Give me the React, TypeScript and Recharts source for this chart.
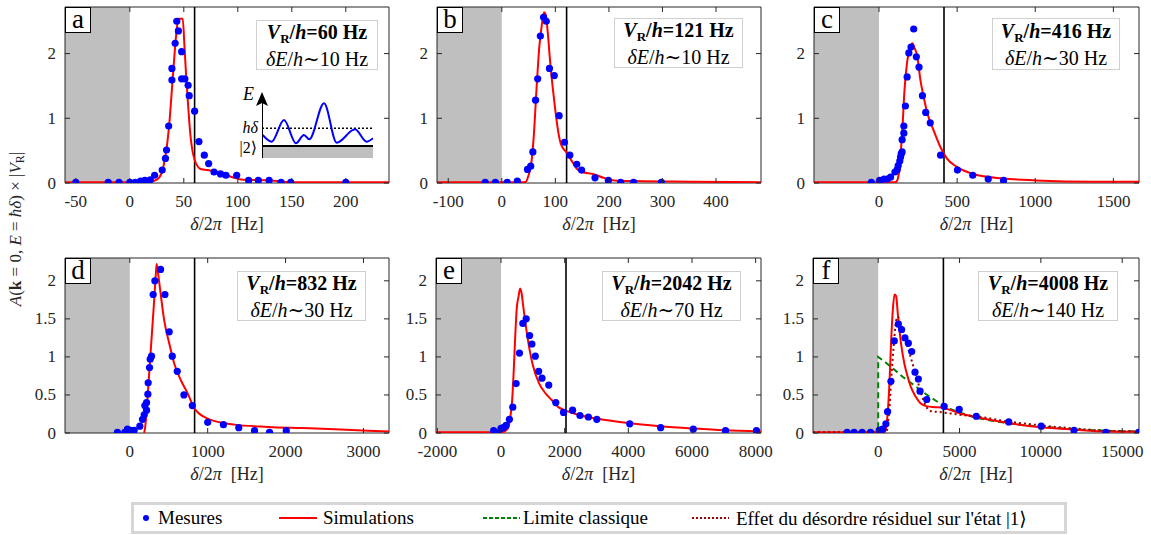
import React from 'react';
import { ComposedChart, LineChart, Line, Scatter, XAxis, YAxis, ReferenceArea, ReferenceLine } from 'recharts';

type Pair = [number, number];

// (a) V_R/h = 60 Hz
const measA: Pair[] = [[-50,0.01],[-20,0.01],[-10,0.01],[0,0.01],[5,0.01],[10,0.03],[14,0.04],[19,0.05],[23,0.12],[30,0.2],[33,0.38],[34,0.51],[36,0.88],[39,1.59],[39,1.77],[42,2.16],[43.5,2.5],[45,2.35],[48,2.03],[48,1.61],[51,1.61],[54,1.51],[55,1.35],[60,1.11],[64,0.64],[69,0.43],[73,0.3],[78,0.17],[84,0.14],[89,0.12],[99,0.12],[110,0.04],[119,0.04],[129,0.04],[140,0.01],[149,0.01],[200,0.01]];
const simA: Pair[] = [[-60,0.01],[15,0.01],[22,0.03],[27,0.08],[30,0.18],[33,0.42],[35,0.66],[37,1.0],[39,1.45],[41,1.9],[43,2.3],[45,2.54],[49,2.54],[50.5,2.15],[52,1.7],[54,1.2],[56,0.76],[58,0.5],[60,0.36],[62,0.28],[65,0.22],[75,0.19],[85,0.15],[95,0.09],[105,0.05],[130,0.04],[150,0.01],[240,0.01]];

// (b) V_R/h = 121 Hz
const measB: Pair[] = [[-31,0.01],[-12,0.01],[10,0.01],[29,0.03],[48,0.21],[54,0.26],[58,0.48],[63,1.28],[67,1.61],[72,2.27],[78,2.56],[83,2.5],[89,1.77],[98,1.66],[107,1.04],[117,0.63],[127,0.43],[140,0.29],[149,0.2],[174,0.08],[199,0.04],[222,0.01],[246,0.01],[298,0.01]];
const simB: Pair[] = [[-121,0.01],[40,0.01],[45,0.02],[50,0.12],[55,0.3],[60,0.76],[65,1.48],[70,2.1],[75,2.46],[79,2.64],[82,2.6],[86,2.31],[90,1.9],[95,1.48],[100,1.12],[106,0.76],[110,0.61],[115,0.53],[120,0.48],[130,0.35],[140,0.22],[150,0.17],[170,0.14],[190,0.08],[210,0.04],[250,0.03],[350,0.02],[484,0.01]];

// (c) V_R/h = 416 Hz
const measC: Pair[] = [[-49,0.01],[4,0.04],[32,0.06],[53,0.06],[74,0.09],[102,0.17],[117,0.21],[123,0.27],[133,0.34],[138,0.4],[142,0.45],[148,0.48],[148,0.67],[159,0.77],[159,0.88],[169,1.19],[180,1.64],[191,2.01],[205,2.1],[222,2.38],[239,1.95],[256,1.79],[278,1.35],[299,1.09],[328,0.93],[394,0.43],[502,0.2],[600,0.12],[699,0.06],[797,0.04]];
const simC: Pair[] = [[-416,0.01],[105,0.01],[115,0.03],[122,0.08],[133,0.25],[140,0.5],[148,0.76],[163,1.43],[180,1.87],[200,2.1],[214,2.16],[225,2.1],[244,1.97],[265,1.59],[286,1.33],[307,1.1],[350,0.81],[392,0.56],[434,0.38],[498,0.25],[604,0.14],[794,0.07],[1006,0.04],[1366,0.02],[1664,0.02]];

// (d) V_R/h = 832 Hz
const measD: Pair[] = [[-159,0.01],[-64,0.01],[-30,0.05],[13,0.035],[56,0.035],[129,0.09],[163,0.18],[185,0.24],[193,0.36],[215,0.4],[215,0.3],[232,0.51],[236,0.66],[253,0.86],[262,0.97],[279,1.01],[300,1.82],[322,2.0],[395,2.15],[451,1.82],[506,1.33],[545,1.01],[609,0.81],[695,0.5],[803,0.36],[1000,0.14],[1202,0.11],[1399,0.07],[1601,0.03],[1794,0.01],[2009,0.03]];
const simD: Pair[] = [[185,0],[200,0.1],[220,0.35],[250,0.8],[280,1.25],[310,1.7],[335,2.1],[345,2.22],[360,2.12],[390,1.88],[442,1.48],[506,1.18],[571,0.91],[657,0.69],[743,0.52],[832,0.32],[1000,0.19],[1343,0.11],[1773,0.08],[2202,0.065],[2631,0.05],[3060,0.03],[3328,0.02]];

// (e) V_R/h = 2042 Hz
const measE: Pair[] = [[-232,0.03],[-105,0.0],[0,0.06],[74,0.07],[158,0.1],[264,0.18],[370,0.34],[475,0.65],[580,1.05],[686,1.44],[792,1.5],[898,1.28],[971,1.17],[1077,1.01],[1183,0.81],[1288,0.72],[1500,0.63],[1721,0.4],[1964,0.27],[2249,0.3],[2481,0.23],[2745,0.21],[3010,0.18],[4044,0.12],[5016,0.07],[6040,0.05],[7054,0.03],[8025,0.03]];
const simE: Pair[] = [[-2042,0.01],[0,0.01],[100,0.02],[200,0.05],[280,0.17],[350,0.43],[400,0.82],[450,1.3],[500,1.66],[550,1.79],[600,1.9],[650,1.83],[700,1.66],[800,1.35],[900,1.09],[1000,0.89],[1200,0.65],[1400,0.52],[1600,0.43],[1800,0.34],[2000,0.3],[2500,0.23],[3000,0.19],[4000,0.13],[5000,0.09],[6000,0.06],[7000,0.035],[8168,0.02]];

// (f) V_R/h = 4008 Hz
const measF: Pair[] = [[-1914,0.01],[-1481,0.01],[-988,0.01],[-473,0.01],[62,0.035],[267,0.05],[473,0.12],[576,0.28],[782,0.68],[988,1.21],[1235,1.43],[1440,1.36],[1646,1.25],[1852,1.18],[2058,1.07],[2263,0.8],[2469,0.71],[2572,0.55],[2984,0.44],[4053,0.35],[4979,0.31],[6029,0.22],[8025,0.145],[10021,0.09],[12037,0.035],[13992,0.01],[16008,0.01]];
const simF: Pair[] = [[-4008,0.01],[400,0.01],[500,0.09],[600,0.31],[700,0.7],[800,1.23],[900,1.62],[1000,1.82],[1100,1.8],[1200,1.58],[1400,1.18],[1600,0.92],[1800,0.75],[2000,0.61],[2300,0.48],[2600,0.39],[3000,0.35],[3500,0.34],[4000,0.33],[5000,0.26],[6000,0.21],[8000,0.13],[10000,0.075],[12000,0.045],[14000,0.02],[16032,0.015]];
const disorderF: Pair[] = [[-4008,0.01],[500,0.01],[600,0.13],[700,0.35],[800,0.7],[900,1.0],[1000,1.27],[1100,1.47],[1200,1.53],[1300,1.49],[1500,1.36],[1800,1.14],[2100,0.92],[2400,0.7],[2700,0.48],[3000,0.33],[3200,0.29],[4000,0.27],[5000,0.24],[6000,0.22],[8000,0.15],[10000,0.1],[12000,0.06],[14000,0.03],[16032,0.02]];
const classicF: Pair[] = [[-4008,0],[0,0],[0,1],[500,0.92],[1000,0.83],[1500,0.74],[2000,0.66],[2500,0.58],[3000,0.5],[3500,0.43],[4000,0.36],[4500,0.31],[5000,0.27],[6000,0.2],[7000,0.16],[8000,0.13],[9000,0.1],[10000,0.085],[12000,0.05],[14000,0.03],[16032,0.02]];

// inset sketch of panel (a)
const insetWave: Pair[] = [[0.06,1.1],[0.87,0.43],[1.98,2.6],[3.06,0.27],[3.78,1.1],[4.26,0.67],[5.59,4.27],[6.73,0.33],[8.38,1.67],[9.43,0.43],[10,0.77]];
const insetDelta = 1.77;

const SERIF = '"Liberation Serif", "DejaVu Serif", serif';
const AX = '#262626';
const MT = 6, YW = 56, MR = 26, XH = 56;

const toPts = (arr: Pair[]) => arr.map(([x, y]) => ({ x, y }));

interface PanelProps {
  left: number; top: number; w: number; h: number;
  xDomain: [number, number]; xTicks: number[];
  yMax: number; yTicks: number[];
  vr: number;
  meas: Pair[]; sim: Pair[];
  classic?: Pair[]; disorder?: Pair[];
}

function Panel(p: PanelProps) {
  const { left, top, w, h, xDomain, xTicks, yMax, yTicks, vr } = p;
  const bottom = MT + h;
  const right = YW + w;

  const xTick = (t: any) => (
    <g>
      <line x1={t.x} x2={t.x} y1={bottom} y2={bottom - 5} stroke={AX} />
      <line x1={t.x} x2={t.x} y1={MT} y2={MT + 5} stroke={AX} />
      <text x={t.x} y={bottom + 18} textAnchor="middle" dominantBaseline="central" fontSize={17} fill={AX} style={{ fontFamily: SERIF }}>
        {t.payload.value}
      </text>
    </g>
  );
  const yTick = (t: any) => (
    <g>
      <line x1={YW} x2={YW + 5} y1={t.y} y2={t.y} stroke={AX} />
      <line x1={right} x2={right - 5} y1={t.y} y2={t.y} stroke={AX} />
      <text x={YW - 9} y={t.y} textAnchor="end" dominantBaseline="central" fontSize={17} fill={AX} style={{ fontFamily: SERIF }}>
        {t.payload.value}
      </text>
    </g>
  );

  return (
    <div style={{ position: 'absolute', left: left - YW, top: top - MT }}>
      <ComposedChart width={YW + w + MR} height={MT + h + XH} margin={{ top: MT, right: MR, left: 0, bottom: 0 }}>
        <XAxis type="number" dataKey="x" domain={xDomain} ticks={xTicks} interval={0} allowDataOverflow
          height={XH} axisLine={false} tickLine={false} tick={xTick} />
        <YAxis type="number" dataKey="y" domain={[0, yMax]} ticks={yTicks} interval={0} allowDataOverflow
          width={YW} axisLine={false} tickLine={false} tick={yTick} />
        <ReferenceArea x1={xDomain[0]} x2={0} y1={0} y2={yMax} fill="#bfbfbf" fillOpacity={1} stroke="none" />
        <ReferenceArea x1={xDomain[0]} x2={xDomain[1]} y1={0} y2={yMax} fill="none" stroke={AX} strokeWidth={1} />
        <ReferenceLine x={vr} stroke="#000" strokeWidth={1.6} />
        {p.classic && (
          <Line data={toPts(p.classic)} dataKey="y" type="linear" stroke="#008000" strokeWidth={2}
            strokeDasharray="6 4" dot={false} isAnimationActive={false} />
        )}
        <Line data={toPts(p.sim)} dataKey="y" type="monotone" stroke="#ff0000" strokeWidth={2}
          dot={false} isAnimationActive={false} />
        {p.disorder && (
          <Line data={toPts(p.disorder)} dataKey="y" type="monotone" stroke="#a00000" strokeWidth={2}
            strokeDasharray="2 3" dot={false} isAnimationActive={false} />
        )}
        <Scatter data={toPts(p.meas)} isAnimationActive={false}
          shape={(s: any) => <circle cx={s.cx} cy={s.cy} r={3.6} fill="#0000ff" />} />
      </ComposedChart>
    </div>
  );
}

function InfoBox({ left, top, width, height, vr, de }: { left: number; top: number; width: number; height: number; vr: number; de: number }) {
  return (
    <div style={{
      position: 'absolute', left, top, width, height, boxSizing: 'border-box',
      border: '1.5px solid #d0d0d0', background: '#fff', display: 'flex', flexDirection: 'column',
      alignItems: 'center', justifyContent: 'center', fontFamily: SERIF, fontSize: 20, lineHeight: '24px', color: '#000',
    }}>
      <div style={{ fontWeight: 700, whiteSpace: 'nowrap' }}>
        <i>V</i><span style={{ fontSize: 13, position: 'relative', top: 4 }}>R</span>/<i>h</i>={vr} Hz
      </div>
      <div style={{ whiteSpace: 'nowrap' }}>
        <i>δE</i>/<i>h</i>∼{de} Hz
      </div>
    </div>
  );
}

function Letter({ left, top, ch }: { left: number; top: number; ch: string }) {
  return (
    <div style={{
      position: 'absolute', left, top, width: 26, height: 26, boxSizing: 'border-box',
      border: '1.5px solid #000', background: '#fff', fontFamily: SERIF, fontSize: 27,
      lineHeight: '22px', textAlign: 'center', color: '#000',
    }}>{ch}</div>
  );
}

function XLabel({ cx, y }: { cx: number; y: number }) {
  return (
    <div style={{
      position: 'absolute', left: cx, top: y, transform: 'translate(-50%, -50%)',
      fontFamily: SERIF, fontSize: 18, color: AX, whiteSpace: 'nowrap',
    }}>
      <i>δ</i>/2<i>π</i>&nbsp;&nbsp;[Hz]
    </div>
  );
}

const legendText: React.CSSProperties = {
  position: 'absolute', top: '50%', transform: 'translateY(-50%)', fontFamily: SERIF, fontSize: 19, color: '#000', whiteSpace: 'nowrap',
};

export default function App() {
  const panels: (PanelProps & { letter: string; box: [number, number, number, number]; de: number })[] = [
    { left: 65, top: 7, w: 324, h: 176, xDomain: [-60, 240], xTicks: [-50, 0, 50, 100, 150, 200], yMax: 2.72, yTicks: [0, 1, 2], vr: 60, meas: measA, sim: simA, letter: 'a', box: [256, 20, 122, 50], de: 10 },
    { left: 437, top: 7, w: 324, h: 176, xDomain: [-121, 484], xTicks: [-100, 0, 100, 200, 300, 400], yMax: 2.72, yTicks: [0, 1, 2], vr: 121, meas: measB, sim: simB, letter: 'b', box: [614, 18, 129, 50], de: 10 },
    { left: 814, top: 7, w: 325, h: 176, xDomain: [-416, 1664], xTicks: [0, 500, 1000, 1500], yMax: 2.72, yTicks: [0, 1, 2], vr: 416, meas: measC, sim: simC, letter: 'c', box: [992, 18, 128, 52], de: 30 },
    { left: 65, top: 258, w: 324, h: 175, xDomain: [-832, 3328], xTicks: [0, 1000, 2000, 3000], yMax: 2.3, yTicks: [0, 0.5, 1, 1.5, 2], vr: 832, meas: measD, sim: simD, letter: 'd', box: [237, 271, 129, 50], de: 30 },
    { left: 436, top: 258, w: 325, h: 175, xDomain: [-2042, 8168], xTicks: [-2000, 0, 2000, 4000, 6000, 8000], yMax: 2.3, yTicks: [0, 0.5, 1, 1.5, 2], vr: 2042, meas: measE, sim: simE, letter: 'e', box: [602, 271, 139, 50], de: 70 },
    { left: 813, top: 258, w: 326, h: 175, xDomain: [-4008, 16032], xTicks: [0, 5000, 10000, 15000], yMax: 2.3, yTicks: [0, 0.5, 1, 1.5, 2], vr: 4008, meas: measF, sim: simF, classic: classicF, disorder: disorderF, letter: 'f', box: [978, 271, 140, 50], de: 140 },
  ];

  return (
    <div style={{ position: 'absolute', left: 0, top: 0, width: 1151, height: 535, background: '#fff', overflow: 'hidden' }}>
      {panels.map((p) => (
        <Panel key={p.letter} {...p} />
      ))}
      {panels.map((p) => (
        <React.Fragment key={'o' + p.letter}>
          <Letter left={p.left} top={p.top} ch={p.letter} />
          <InfoBox left={p.box[0]} top={p.box[1]} width={p.box[2]} height={p.box[3]} vr={p.vr} de={p.de} />
          <XLabel cx={p.left + p.w / 2} y={p.top + p.h + 41} />
        </React.Fragment>
      ))}

      {/* inset sketch in panel a */}
      <div style={{ position: 'absolute', left: 262, top: 95 }}>
        <LineChart width={111} height={63} margin={{ top: 0, right: 0, bottom: 0, left: 0 }}>
          <XAxis type="number" dataKey="x" domain={[0, 10]} hide />
          <YAxis type="number" dataKey="y" domain={[-1.2, 5.1]} hide />
          <ReferenceArea x1={0} x2={10} y1={-1.2} y2={0} fill="#bfbfbf" fillOpacity={1} stroke="none" />
          <ReferenceLine y={insetDelta} stroke="#000" strokeWidth={1.5} strokeDasharray="2 2" />
          <Line data={toPts(insetWave)} dataKey="y" type="monotone" stroke="#0000ff" strokeWidth={2} dot={false} isAnimationActive={false} />
          <ReferenceLine y={0} stroke="#000" strokeWidth={2} />
          <ReferenceLine x={0} stroke="#000" strokeWidth={2} />
        </LineChart>
      </div>
      <svg style={{ position: 'absolute', left: 255, top: 91 }} width={14} height={16}>
        <polygon points="1,15 7,1 13,15 7,12" fill="#000" />
      </svg>
      <div style={{ position: 'absolute', left: 243, top: 84, fontFamily: SERIF, fontSize: 18, fontStyle: 'italic' }}>E</div>
      <div style={{ position: 'absolute', right: 1151 - 258, top: 128, transform: 'translateY(-50%)', fontFamily: SERIF, fontSize: 16, fontStyle: 'italic' }}>hδ</div>
      <div style={{ position: 'absolute', right: 1151 - 257, top: 147, transform: 'translateY(-50%)', fontFamily: SERIF, fontSize: 16 }}>|2⟩</div>

      {/* y label */}
      <div style={{
        position: 'absolute', left: 16, top: 229, transform: 'translate(-50%, -50%) rotate(-90deg)',
        fontFamily: SERIF, fontSize: 17, color: AX, whiteSpace: 'nowrap',
      }}>
        <i>A</i>(<b>k</b> = 0, <i>E</i> = <i>ħδ</i>) × |<i>V</i><span style={{ fontSize: 12, position: 'relative', top: 3 }}>R</span>|
      </div>

      {/* legend */}
      <div style={{ position: 'absolute', left: 131, top: 502, width: 936, height: 32, boxSizing: 'border-box', border: '3px solid #d6d6d6', background: '#fff' }}>
        <svg style={{ position: 'absolute', left: 0, top: 0 }} width={930} height={26}>
          <circle cx={12} cy={13} r={3} fill="#0000ff" />
          <line x1={145} x2={183} y1={13} y2={13} stroke="#ff0000" strokeWidth={2} />
          <line x1={349} x2={386} y1={13} y2={13} stroke="#008000" strokeWidth={2} strokeDasharray="4 2" />
          <line x1={558} x2={595} y1={13} y2={13} stroke="#a00000" strokeWidth={2} strokeDasharray="2 2" />
        </svg>
        <span style={{ ...legendText, left: 24 }}>Mesures</span>
        <span style={{ ...legendText, left: 189 }}>Simulations</span>
        <span style={{ ...legendText, left: 389 }}>Limite classique</span>
        <span style={{ ...legendText, left: 602 }}>Effet du désordre résiduel sur l'état |1⟩</span>
      </div>
    </div>
  );
}
